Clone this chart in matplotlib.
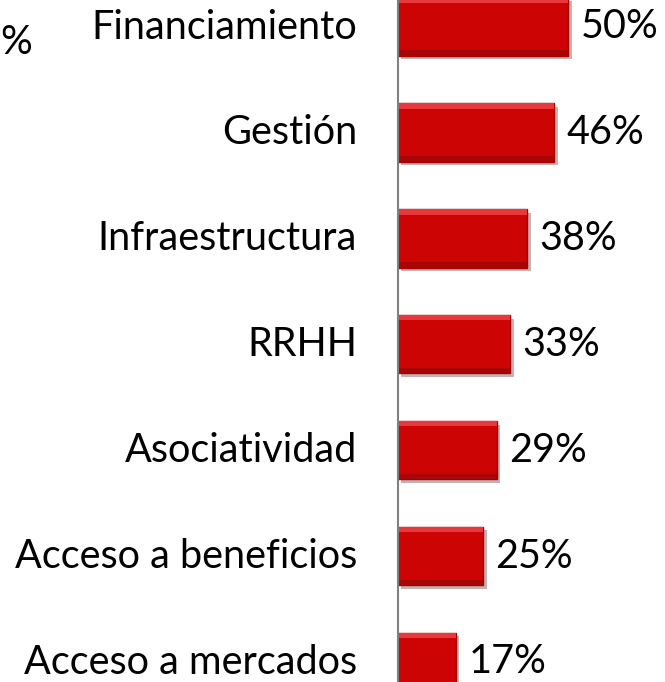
import matplotlib
matplotlib.use('Agg')
import matplotlib.pyplot as plt
import matplotlib.patheffects as pe
import matplotlib.transforms as mtransforms

categories = ['Financiamiento', 'Gestión', 'Infraestructura', 'RRHH',
              'Asociatividad', 'Acceso a beneficios', 'Acceso a mercados']
values = [50, 46, 38, 33, 29, 25, 17]
value_labels = ['50%', '46%', '38%', '33%', '29%', '25%', '17%']

plt.rcParams['font.family'] = ['Lato', 'DejaVu Sans']

W, H, DPI = 665, 682, 100
fig = plt.figure(figsize=(W / DPI, H / DPI), dpi=DPI)
ax = fig.add_axes([398 / W, 0, (W - 398) / W, 1])

pos = list(range(len(categories)))
bh = 0.55
bars = ax.barh(pos, values, height=bh, color='#cc0404',
               edgecolor='#a80000', linewidth=1.0, zorder=2)
for b in bars:
    b.set_path_effects([pe.SimplePatchShadow(offset=(2.5, -2.5), alpha=0.3),
                        pe.Normal()])

# bevel: light top strip, dark bottom strip
ax.barh([p - bh / 2 + 0.025 for p in pos], values, height=0.05,
        color='#e8383c', linewidth=0, zorder=3)
ax.barh([p + bh / 2 - 0.025 for p in pos], values, height=0.05,
        color='#a60606', linewidth=0, zorder=3)

ax.set_xlim(0, 78.5)
ax.set_ylim(6.189, -0.251)
ax.set_yticks(pos)
ax.set_yticklabels(categories, fontsize=28.5)
ax.tick_params(axis='y', length=0, pad=29.5)
ax.set_xticks([])
for s in ['top', 'right', 'bottom']:
    ax.spines[s].set_visible(False)
ax.spines['left'].set_color('#808080')
ax.spines['left'].set_linewidth(1.5)
ax.spines['left'].set_zorder(4)

# nudge category labels up a little
shift = mtransforms.ScaledTranslation(0, 3 / DPI, fig.dpi_scale_trans)
for t in ax.get_yticklabels():
    t.set_transform(t.get_transform() + shift)

for p, v, lab in zip(pos, values, value_labels):
    ax.annotate(lab, (v, p), xytext=(9, 0), textcoords='offset points',
                va='center', ha='left', fontsize=28.5)

fig.text(0, 1 - 42 / H, '%', fontsize=28.5, va='center', ha='left')

fig.savefig('out.png', dpi=DPI)
